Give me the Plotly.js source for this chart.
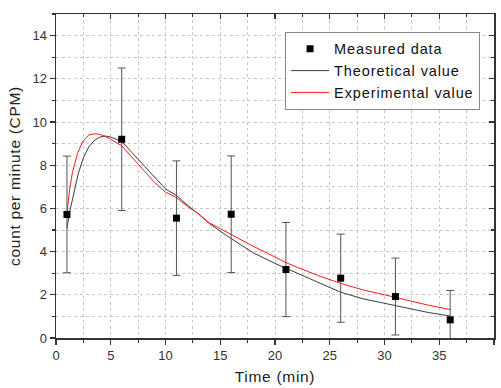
<!DOCTYPE html>
<html><head><meta charset="utf-8">
<script src="https://cdn.plot.ly/plotly-3.0.1.min.js"></script>
<style>
html,body{margin:0;padding:0;background:#fff}
#c{width:501px;height:388px}
.legendtext{letter-spacing:0.9px}
.xtitle,.ytitle{letter-spacing:0.7px}
</style>
</head><body><div id="c"></div>
<script>
// Measured data
var measTime = [1, 6, 11, 16, 21, 26, 31, 36];
var measCPM = [5.72, 9.2, 5.55, 5.73, 3.17, 2.77, 1.92, 0.84];
var measErr = [2.7, 3.3, 2.65, 2.7, 2.18, 2.04, 1.78, 1.36];

// Theoretical curve
var theoTime = [1, 1.25, 1.5, 2, 2.5, 3, 3.5, 4, 4.5, 5, 6, 7, 8, 9, 10, 11, 12, 13, 14, 16, 18, 20, 21, 22, 24, 26, 28, 30, 31, 32, 34, 36];
var theoCPM = [5.08, 5.85, 6.4, 7.55, 8.35, 8.85, 9.15, 9.3, 9.35, 9.3, 9.1, 8.55, 7.95, 7.4, 6.9, 6.6, 6.15, 5.75, 5.3, 4.6, 3.95, 3.45, 3.23, 3.0, 2.55, 2.12, 1.82, 1.6, 1.5, 1.38, 1.18, 1.02];

// Experimental curve
var expTime = [1, 1.25, 1.5, 2, 2.5, 3, 3.5, 4, 4.5, 5, 6, 7, 8, 9, 10, 11, 12, 13, 14, 16, 18, 20, 21, 22, 24, 26, 28, 30, 31, 32, 34, 36];
var expCPM = [5.8, 6.9, 7.65, 8.6, 9.15, 9.4, 9.45, 9.43, 9.33, 9.2, 8.9, 8.35, 7.75, 7.2, 6.75, 6.5, 6.1, 5.75, 5.33, 4.78, 4.25, 3.75, 3.49, 3.28, 2.88, 2.53, 2.23, 2.0, 1.87, 1.76, 1.52, 1.32];

var xTicks = [0, 5, 10, 15, 20, 25, 30, 35, 40];
var yTicks = [0, 2, 4, 6, 8, 10, 12, 14];

var font = 'Liberation Sans, Arial, sans-serif';
var axisCol = '#333333';
var gridCol = '#c8c8c8';

var traces = [
  {x: theoTime, y: theoCPM, mode: 'lines', name: 'Theoretical value', legendrank: 2,
   line: {color: '#3c3c3c', width: 1}},
  {x: expTime, y: expCPM, mode: 'lines', name: 'Experimental value', legendrank: 3,
   line: {color: '#ff1a1a', width: 1}},
  {x: measTime, y: measCPM, mode: 'markers', name: 'Measured data', legendrank: 1,
   marker: {symbol: 'square', size: 7, color: '#000'},
   error_y: {type: 'data', array: measErr, visible: true, color: '#555', thickness: 1, width: 4}},
  {x: [], y: [], xaxis: 'x2', yaxis: 'y2', showlegend: false, hoverinfo: 'skip'}
];

var baseX = {
  range: [0, 40], tickvals: xTicks, ticktext: xTicks.map(String),
  showline: true, linecolor: axisCol, linewidth: 1.5,
  ticks: 'outside', ticklen: 5, tickwidth: 1.2, tickcolor: axisCol,
  minor: {dtick: 2.5, tick0: 0, ticks: 'outside', ticklen: 3, tickcolor: axisCol, showgrid: true, gridcolor: gridCol, griddash: 'dot', gridwidth: 1},
  showgrid: true, gridcolor: gridCol, griddash: 'dot', gridwidth: 1,
  zeroline: false, tickfont: {family: font, size: 13, color: '#333'}, fixedrange: true
};
var baseY = {
  range: [0, 15], tickvals: yTicks, ticktext: yTicks.map(String),
  showline: true, linecolor: axisCol, linewidth: 1.5,
  ticks: 'outside', ticklen: 5, tickwidth: 1.2, tickcolor: axisCol,
  minor: {dtick: 1, tick0: 0, ticks: 'outside', ticklen: 3, tickcolor: axisCol, showgrid: true, gridcolor: gridCol, griddash: 'dot', gridwidth: 1},
  showgrid: true, gridcolor: gridCol, griddash: 'dot', gridwidth: 1,
  zeroline: false, tickfont: {family: font, size: 13, color: '#333'}, fixedrange: true
};

var xa = Object.assign({}, baseX, {title: {text: 'Time (min)', font: {family: font, size: 15.5, color: '#222'}, standoff: 9}});
var ya = Object.assign({}, baseY, {title: {text: 'count per minute (CPM)', font: {family: font, size: 15.5, color: '#222'}, standoff: 8}});

var layout = {
  width: 501, height: 388,
  margin: {l: 56, r: 7, t: 14, b: 50},
  paper_bgcolor: '#fff', plot_bgcolor: '#fff',
  font: {family: font},
  xaxis: xa,
  yaxis: ya,
  xaxis2: {range: [0, 40], overlaying: 'x', side: 'top', anchor: 'y2', showline: true, linecolor: axisCol, linewidth: 1.5,
    tickvals: xTicks, showticklabels: false, ticks: 'inside', ticklen: 5, tickwidth: 1.2, tickcolor: axisCol,
    minor: {dtick: 2.5, tick0: 0, ticks: 'inside', ticklen: 3, tickcolor: axisCol},
    showgrid: false, zeroline: false, fixedrange: true},
  yaxis2: {range: [0, 15], overlaying: 'y', side: 'right', anchor: 'x2', showline: true, linecolor: axisCol, linewidth: 1.5,
    tickvals: yTicks, showticklabels: false, ticks: 'inside', ticklen: 5, tickwidth: 1.2, tickcolor: axisCol,
    minor: {dtick: 1, tick0: 0, ticks: 'inside', ticklen: 3, tickcolor: axisCol},
    showgrid: false, zeroline: false, fixedrange: true},
  legend: {x: 0.523, y: 0.945, xanchor: 'left', yanchor: 'top',
    bgcolor: '#fff', bordercolor: '#888', borderwidth: 1,
    font: {family: font, size: 14.5, color: '#111'}, tracegroupgap: 0, itemwidth: 38},
  showlegend: true
};

Plotly.newPlot('c', traces, layout, {displayModeBar: false, staticPlot: true});
</script>
</body></html>
